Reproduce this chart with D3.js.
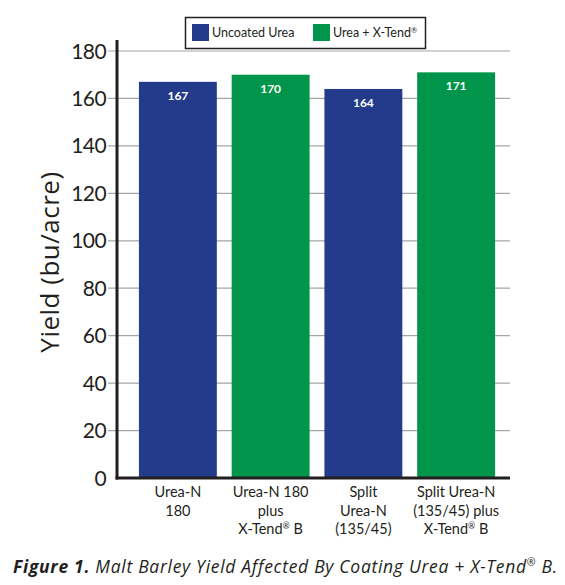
<!DOCTYPE html>
<html>
<head>
<meta charset="utf-8">
<script src="https://cdn.jsdelivr.net/npm/d3@7"></script>
<style>
  body { margin: 0; background: #fff; }
  svg { font-family: Lato, "Open Sans", sans-serif; }
</style>
</head>
<body>
<svg id="svg" width="565" height="585"></svg>
<script>
// data
var categories = ["a", "b", "c", "d"];
var catLabels = [
  ["Urea-N", "180"],
  ["Urea-N 180", "plus", "X-Tend\u00ae B"],
  ["Split", "Urea-N", "(135/45)"],
  ["Split Urea-N", "(135/45) plus", "X-Tend\u00ae B"]
];
var yields = [167, 170, 164, 171];
var series = ["Uncoated Urea", "Urea + X-Tend\u00ae"];
var seriesOf = [0, 1, 0, 1];
var yTicks = [0, 20, 40, 60, 80, 100, 120, 140, 160, 180];

var colors = ["#243b8b", "#00954a"];

var svg = d3.select("#svg");

// write a string, putting the (R) mark up as a small superscript
function rich(sel, str) {
  var parts = str.split("\u00ae");
  parts.forEach(function(p, i) {
    if (p) sel.append("tspan").text(p);
    if (i < parts.length - 1) {
      sel.append("tspan").attr("font-size", "0.6em").attr("baseline-shift", "super").text("\u00ae");
    }
  });
}

var x = d3.scaleBand().domain(categories).range([131.5, 502.5])
  .paddingInner(0.16).paddingOuter(0.08);
var y = d3.scaleLinear().domain([0, 180]).range([478, 51]);

// gridlines (start a bit left of the axis, acting as ticks)
svg.append("g").selectAll("line").data(yTicks.slice(1)).enter()
  .append("line")
  .attr("x1", 108).attr("x2", 510)
  .attr("y1", function(d) { return y(d); })
  .attr("y2", function(d) { return y(d); })
  .attr("stroke", "#a6a6a6").attr("stroke-width", 1.2);

// y tick labels
svg.append("g").selectAll("text").data(yTicks).enter()
  .append("text")
  .attr("x", 106)
  .attr("y", function(d) { return y(d) + 7.5; })
  .attr("text-anchor", "end")
  .attr("font-size", 21)
  .attr("letter-spacing", -0.6)
  .attr("fill", "#231f20")
  .text(function(d) { return d; });

// bars
svg.append("g").selectAll("rect").data(yields).enter()
  .append("rect")
  .attr("x", function(d, i) { return x(categories[i]); })
  .attr("y", function(d) { return y(d); })
  .attr("width", x.bandwidth())
  .attr("height", function(d) { return y(0) - y(d); })
  .attr("fill", function(d, i) { return colors[seriesOf[i]]; });

// value labels
svg.append("g").selectAll("text").data(yields).enter()
  .append("text")
  .attr("x", function(d, i) { return x(categories[i]) + x.bandwidth() / 2; })
  .attr("y", function(d) { return y(d) + 18; })
  .attr("text-anchor", "middle")
  .attr("font-size", 12)
  .attr("font-weight", "bold")
  .attr("fill", "#fff")
  .text(function(d) { return d; });

// axes lines
svg.append("line").attr("x1", 117).attr("x2", 117).attr("y1", 40).attr("y2", 479.5)
  .attr("stroke", "#231f20").attr("stroke-width", 3);
svg.append("line").attr("x1", 115.5).attr("x2", 510).attr("y1", 478).attr("y2", 478)
  .attr("stroke", "#231f20").attr("stroke-width", 3);

// x labels
catLabels.forEach(function(lines, i) {
  var cx = x(categories[i]) + x.bandwidth() / 2;
  lines.forEach(function(line, j) {
    var t = svg.append("text")
      .attr("x", cx).attr("y", 497 + j * 18.5)
      .attr("text-anchor", "middle")
      .attr("font-size", 14.5)
      .attr("fill", "#231f20");
    rich(t, line);
  });
});

// y title
svg.append("text")
  .attr("transform", "translate(58.5,262) rotate(-90)")
  .attr("text-anchor", "middle")
  .attr("font-family", "'Open Sans', sans-serif")
  .attr("font-size", 26)
  .attr("letter-spacing", 0.5)
  .attr("fill", "#231f20")
  .text("Yield (bu/acre)");

// legend
var leg = svg.append("g");
leg.append("rect").attr("x", 185.5).attr("y", 17.5).attr("width", 240).attr("height", 31)
  .attr("fill", "#fff").attr("stroke", "#231f20").attr("stroke-width", 1.5);
var legX = [192, 313];
series.forEach(function(s, i) {
  leg.append("rect").attr("x", legX[i]).attr("y", 24).attr("width", 17).attr("height", 17)
    .attr("fill", colors[i]);
  var t = leg.append("text").attr("x", legX[i] + 20).attr("y", 37)
    .attr("font-size", 12.5).attr("fill", "#231f20");
  rich(t, s);
});

// caption
var cap = svg.append("text").attr("x", 13).attr("y", 573)
  .attr("font-family", "'Open Sans', sans-serif")
  .attr("font-size", 17.5).attr("letter-spacing", 0.7)
  .attr("font-style", "italic").attr("fill", "#231f20");
cap.append("tspan").attr("font-weight", "bold").text("Figure 1. ");
rich(cap, "Malt Barley Yield Affected By Coating Urea + X-Tend\u00ae B.");
</script>
</body>
</html>
